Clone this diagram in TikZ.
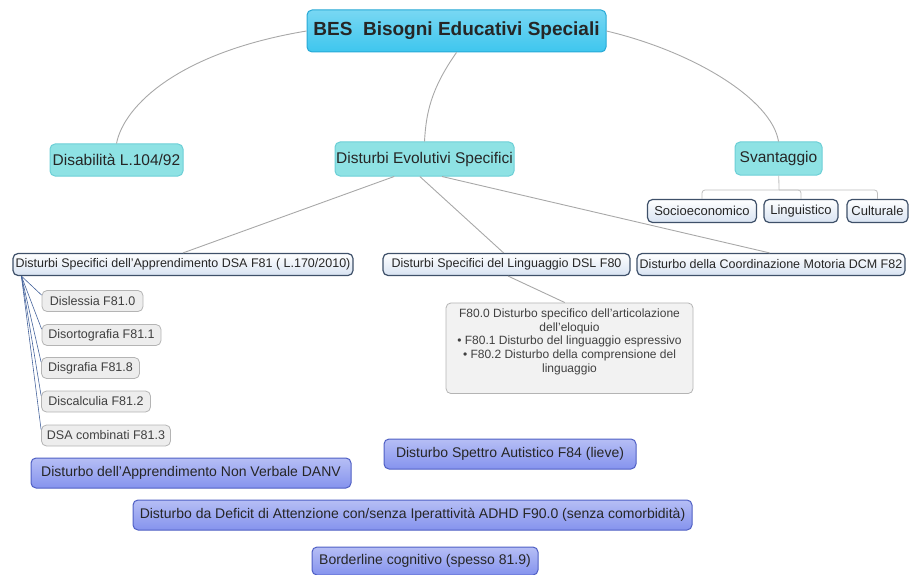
\documentclass[tikz,border=0pt]{standalone}
\usepackage{fontspec}
\setmainfont{Liberation Sans}
\definecolor{rootfill}{HTML}{3EC6EE}
\definecolor{rootline}{HTML}{27A9D6}
\definecolor{topfill}{HTML}{8EE2E4}
\definecolor{topline}{HTML}{6CCFD6}
\definecolor{subfill}{HTML}{D8E3F2}
\definecolor{subline}{HTML}{3E5069}
\definecolor{leafline}{HTML}{B4B4B4}
\definecolor{bluefill}{HTML}{8593EE}
\definecolor{blueline}{HTML}{4F5FC4}
\definecolor{linkgrey}{HTML}{A8A8A8}
\definecolor{fanblue}{HTML}{46649C}
\tikzset{
  root/.style={draw=rootline, line width=1pt, rounded corners=5pt, top color=rootfill!70!white, bottom color=rootfill,
    font=\fontsize{19}{21}\selectfont\bfseries, text=black!85, inner sep=0pt},
  topic/.style={draw=topline, line width=1pt, rounded corners=5pt, fill=topfill,
    font=\fontsize{15.5}{17}\selectfont, text=black!85, inner sep=0pt},
  subtopic/.style={draw=subline, line width=1.2pt, rounded corners=5pt, top color=white, bottom color=subfill,
    font=\fontsize{12.5}{14}\selectfont, text=black!85, inner sep=0pt},
  leaf/.style={draw=leafline, line width=0.8pt, rounded corners=5pt, fill=black!7,
    font=\fontsize{12.5}{14}\selectfont, text=black!75, inner sep=0pt},
  note/.style={draw=leafline, line width=0.8pt, rounded corners=5pt, fill=black!5,
    font=\fontsize{12}{13.7}\selectfont, text=black!75, inner xsep=3pt, inner ysep=6pt, align=center, anchor=north},
  extra/.style={draw=blueline, line width=1pt, rounded corners=5pt, top color=bluefill!60!white, bottom color=bluefill,
    font=\fontsize{14}{16}\selectfont, text=black!85, inner sep=0pt},
  link/.style={draw=linkgrey, line width=0.9pt},
  fan/.style={draw=fanblue, line width=0.6pt},
  bracket/.style={draw=black!25, line width=0.8pt, rounded corners=3pt}
}
\begin{document}
\begin{tikzpicture}[x=1pt, y=-1pt]
        \useasboundingbox (0,0) rectangle (910,575);
        % nodes
        \node[root, minimum width=299, minimum height=42] (n1) at (456.5, 31) {BES\ \ Bisogni Educativi Speciali};
            \node[topic, minimum width=133, minimum height=32] (n1-1) at (116.5, 160) {Disabilità L.104/92};
            \node[topic, minimum width=179, minimum height=34] (n1-2) at (424.5, 159) {Disturbi Evolutivi Specifici};
                \node[subtopic, minimum width=340, minimum height=22] (n1-2-1) at (183, 264.5) {Disturbi Specifici dell'Apprendimento DSA F81 ( L.170/2010)};
                    \node[leaf, minimum width=101, minimum height=21] (n1-2-1-1) at (92.5, 301) {Dislessia F81.0};
                    \node[leaf, minimum width=119, minimum height=21] (n1-2-1-2) at (101.5, 335) {Disortografia F81.1};
                    \node[leaf, minimum width=98, minimum height=21] (n1-2-1-3) at (90.5, 368) {Disgrafia F81.8};
                    \node[leaf, minimum width=109, minimum height=21] (n1-2-1-4) at (96, 401.5) {Discalculia F81.2};
                    \node[leaf, minimum width=129, minimum height=21] (n1-2-1-5) at (106, 435.5) {DSA combinati F81.3};
                \node[subtopic, minimum width=247, minimum height=22] (n1-2-2) at (506.5, 264.5) {Disturbi Specifici del Linguaggio DSL F80};
                    \node[note, minimum width=247] (n1-2-2-1) at (569.5, 302.5)
                        {F80.0 Disturbo specifico dell'articolazione\\
                         dell'eloquio\\
                         • F80.1 Disturbo del linguaggio espressivo\\
                         • F80.2 Disturbo della comprensione del\\
                         linguaggio\\[1.5pt]};
                \node[subtopic, minimum width=268, minimum height=22] (n1-2-3) at (771, 264.5) {Disturbo della Coordinazione Motoria DCM F82};
            \node[topic, minimum width=87, minimum height=33] (n1-3) at (778.5, 158.5) {Svantaggio};
                \coordinate (n1-3-0) at (779, 190);
                \node[subtopic, minimum width=109, minimum height=23, font=\fontsize{13}{15}\selectfont] (n1-3-1) at (702, 211) {Socioeconomico};
                \node[subtopic, minimum width=74, minimum height=23, font=\fontsize{13}{15}\selectfont] (n1-3-2) at (801, 211) {Linguistico};
                \node[subtopic, minimum width=61, minimum height=23, font=\fontsize{13}{15}\selectfont] (n1-3-3) at (877.5, 211) {Culturale};
        \node[extra, minimum width=320, minimum height=30] (n2) at (191, 473) {Disturbo dell'Apprendimento Non Verbale DANV};
        \node[extra, minimum width=252, minimum height=30] (n3) at (510, 454) {Disturbo Spettro Autistico F84 (lieve)};
        \node[extra, minimum width=559, minimum height=30] (n4) at (412.5, 515) {Disturbo da Deficit di Attenzione con/senza Iperattività ADHD F90.0 (senza comorbidità)};
        \node[extra, minimum width=226, minimum height=28] (n5) at (425, 561) {Borderline cognitivo (spesso 81.9)};
        % lines
        \draw[link] (n1.west) .. controls (180, 52) and (124, 105) .. (n1-1.north);
        \draw[link] (n1.south) .. controls (430, 90) and (426, 115) .. (n1-2.north);
        \draw[link] (n1.east) .. controls (695, 52) and (772, 100) .. (n1-3.north);
        \draw[link] (n1-2.-150) -- (n1-2-1.north);
        \draw[link] (n1-2.-105) -- (n1-2-2.104);
        \draw[link] (n1-2.-45)  -- (n1-2-3.97);
        \draw[link] (n1-2-2.-82) -- (n1-2-2-1.96);
        \draw[bracket] (n1-3) -- (n1-3-0);
        \draw[bracket] (n1-3-0) -| (n1-3-1);
        \draw[bracket] (n1-3-0) -| (n1-3-2);
        \draw[bracket] (n1-3-0) -| (n1-3-3);
        \draw[fan] ([xshift=9]n1-2-1.south west) -- ([yshift=-5]n1-2-1-1.north west);
        \draw[fan] ([xshift=9]n1-2-1.south west) -- ([yshift=-5]n1-2-1-2.north west);
        \draw[fan] ([xshift=9]n1-2-1.south west) -- ([yshift=-5]n1-2-1-3.north west);
        \draw[fan] ([xshift=9]n1-2-1.south west) -- ([yshift=-5]n1-2-1-4.north west);
        \draw[fan] ([xshift=9]n1-2-1.south west) -- ([yshift=-5]n1-2-1-5.north west);
\end{tikzpicture}
\end{document}
